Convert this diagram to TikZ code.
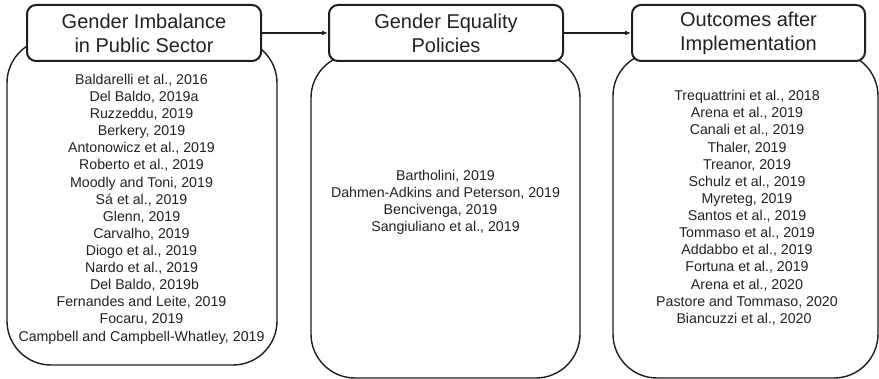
\documentclass[tikz,border=0pt]{standalone}
\usepackage{fontspec}
\setmainfont{Liberation Sans}
\usetikzlibrary{arrows.meta}
\definecolor{ink}{HTML}{1E1E1E}
\definecolor{txt}{HTML}{222222}
\begin{document}
\begin{tikzpicture}[x=1pt,y=-1pt,
  panel/.style={draw=ink, line width=1.4pt, rounded corners=44pt, fill=white, inner sep=0pt},
  header/.style={draw=ink, line width=2pt, rounded corners=9pt, fill=white,
    minimum width=234pt, minimum height=56pt, inner sep=0pt, align=center,
    font=\fontsize{20}{24}\selectfont, text=txt},
  ref/.style={anchor=base, inner sep=0pt, font=\fontsize{14.2}{17}\selectfont, text=txt},
  flow/.style={draw=ink, line width=1.2pt, -{Latex[length=6pt,width=5pt]}}]
\useasboundingbox (0,0) rectangle (879,379);

% large rounded panels holding the reference lists
\node[panel, minimum width=270pt, minimum height=326pt] (p1) at (142,202) {};
\node[panel, minimum width=269pt, minimum height=324pt] (p2) at (445.5,216) {};
\node[panel, minimum width=265pt, minimum height=326pt] (p3) at (745.5,215) {};

% stage headers
\node[header] (h1) at (144,33) {Gender Imbalance\\in Public Sector};
\node[header] (h2) at (446,33) {Gender Equality\\Policies};
\node[header, minimum width=233pt] (h3) at (748.5,33) {Outcomes after\\Implementation};

% flow between stages
\draw[flow] (h1.east) -- (h2.west);
\draw[flow] (h2.east) -- (h3.west);

% references: gender imbalance
\foreach \t/\dx [count=\i from 0] in {
  {Baldarelli et al., 2016}/0, {Del Baldo, 2019a}/2.5, {Ruzzeddu, 2019}/0,
  {Berkery, 2019}/0, {Antonowicz et al., 2019}/0, {Roberto et al., 2019}/0,
  {Moodly and Toni, 2019}/0, {Sá et al., 2019}/0, {Glenn, 2019}/0,
  {Carvalho, 2019}/0, {Diogo et al., 2019}/0, {Nardo et al., 2019}/0,
  {Del Baldo, 2019b}/3, {Fernandes and Leite, 2019}/0, {Focaru, 2019}/0,
  {Campbell and Campbell-Whatley, 2019}/0}
  \node[ref] (L\i) at (141.5+\dx, 84.4+17.11*\i) {\t};

% references: equality policies
\foreach \t/\dx [count=\i from 0] in {
  {Bartholini, 2019}/0, {Dahmen-Adkins and Peterson, 2019}/0,
  {Bencivenga, 2019}/-5, {Sangiuliano et al., 2019}/0}
  \node[ref] (M\i) at (445.5+\dx, 180.1+17.2*\i) {\t};

% references: outcomes
\foreach \t/\dx [count=\i from 0] in {
  {Trequattrini et al., 2018}/0, {Arena et al., 2019}/0, {Canali et al., 2019}/0,
  {Thaler, 2019}/0, {Treanor, 2019}/0, {Schulz et al., 2019}/0,
  {Myreteg, 2019}/0, {Santos et al., 2019}/0, {Tommaso et al., 2019}/0,
  {Addabbo et al., 2019}/0, {Fortuna et al., 2019}/0, {Arena et al., 2020}/0,
  {Pastore and Tommaso, 2020}/0, {Biancuzzi et al., 2020}/-3}
  \node[ref] (R\i) at (747+\dx, 100.7+17.13*\i) {\t};
\end{tikzpicture}
\end{document}
